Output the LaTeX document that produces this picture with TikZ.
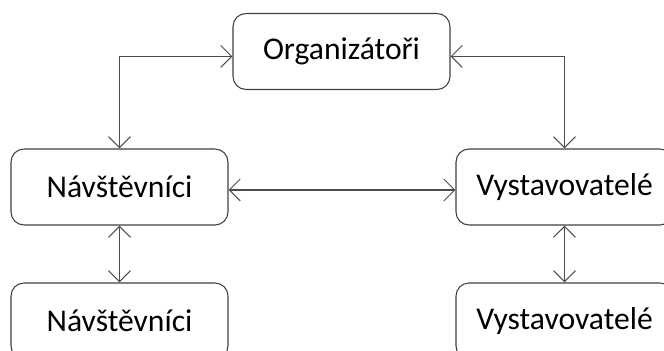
\documentclass[tikz,border=0pt]{standalone}
\usepackage{fontspec}
\setmainfont{Carlito}
\usetikzlibrary{arrows.meta}

\begin{document}
\begin{tikzpicture}[x=0.02cm,y=-0.02cm,
	box/.style={draw=black!75,line width=0.6pt,rounded corners=0.26cm,
		minimum width=4.34cm,minimum height=1.52cm,font=\fontsize{18}{21}\selectfont},
	link/.style={draw=black!70,line width=0.6pt,
		{Straight Barb[length=0.22cm,width=0.44cm]}-{Straight Barb[length=0.22cm,width=0.44cm]}}]
	\clip (0,0) rectangle (664,351);
	\node[box] (org) at (341.5,51.5) {Organizátoři};
	\node[box] (nav1) at (119.5,187) {Návštěvníci};
	\node[box] (vys1) at (564.5,187) {Vystavovatelé};
	\node[box] (nav2) at (119.5,321) {Návštěvníci};
	\node[box] (vys2) at (564.5,321) {Vystavovatelé};
	\draw[link] (nav1.north) |- ([yshift=-0.1cm]org.west);
	\draw[link] ([yshift=-0.1cm]org.east) -| (vys1.north);
	\draw[link] ([yshift=-0.06cm]nav1.east) -- ([yshift=-0.06cm]vys1.west);
	\draw[link] (nav1.south) -- (nav2.north);
	\draw[link] (vys1.south) -- (vys2.north);
\end{tikzpicture}
\end{document}
